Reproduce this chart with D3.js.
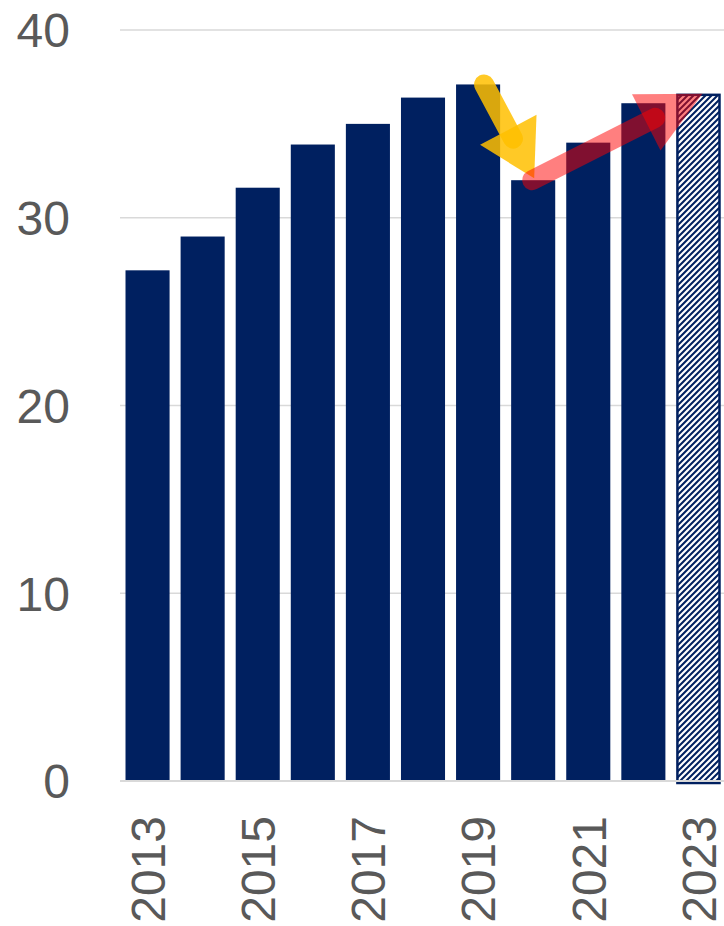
<!DOCTYPE html>
<html>
<head>
<meta charset="utf-8">
<script src="https://cdn.jsdelivr.net/npm/d3@7"></script>
<style>
  html, body { margin: 0; padding: 0; background: #ffffff; }
  svg { display: block; }
  text { font-family: "Liberation Sans", "Open Sans", sans-serif; fill: #595959; }
</style>
</head>
<body>
<svg id="chart" width="724" height="926"></svg>
<script>
// ---- data ----
const years = ["2013","2014","2015","2016","2017","2018","2019","2020","2021","2022","2023"];
const values = [27.2, 29.0, 31.6, 33.9, 35.0, 36.4, 37.1, 32.0, 34.0, 36.1, 36.6];
const estimatedYears = ["2023"];
const yTicks = [0, 10, 20, 30, 40];
const xTickLabels = ["2013","2015","2017","2019","2021","2023"];
// annotation arrows (data space)
const arrowFromYear = ["2019", "2020"];
const arrowFromValue = [37.1, 32.0];
const arrowToYear = ["2020", "2023"];
const arrowToValue = [32.1, 36.6];

// ---- layout ----
const W = 724, H = 926;
const mLeft = 120, mRight = 726, mTop = 30, mBottom = 781;
const navy = "#002060";
const arrowStyles = [
  { color: "#FFC000", opacity: 0.85, width: 20, headLen: 55, headWidth: 64, dx0: 6, dx1: 1 },
  { color: "#FF0000", opacity: 0.5, width: 20, headLen: 63, headWidth: 63, dx0: -1, dx1: 4 }
];

const svg = d3.select("#chart");

const x = d3.scaleBand().domain(years).range([mLeft, mRight]).paddingInner(0.2).paddingOuter(0.1);
const y = d3.scaleLinear().domain([0, 40]).range([mBottom, mTop]);

// pattern for estimated bar
const defs = svg.append("defs");
const pat = defs.append("pattern")
  .attr("id", "hatch").attr("patternUnits", "userSpaceOnUse")
  .attr("width", 6).attr("height", 6);
pat.append("rect").attr("width", 6).attr("height", 6).attr("fill", navy);
pat.append("path")
  .attr("d", "M-1,7 L7,-1 M-2,2 L2,-2 M4,8 L8,4")
  .attr("stroke", "#ffffff").attr("stroke-width", 2.2);

// gridlines
const grid = svg.append("g");
grid.selectAll("line").data(yTicks.filter(d => d > 0)).join("line")
  .attr("x1", mLeft).attr("x2", W)
  .attr("y1", d => y(d)).attr("y2", d => y(d))
  .attr("stroke", "#d9d9d9").attr("stroke-width", 1.5);

// y tick labels
svg.append("g").selectAll("text").data(yTicks).join("text")
  .attr("x", 70).attr("y", d => y(d)).attr("dy", "0.36em")
  .attr("text-anchor", "end").attr("font-size", 48)
  .text(d => d);

// bars
const data = years.map((yr, i) => ({ year: yr, value: values[i], est: estimatedYears.includes(yr) }));
svg.append("g").selectAll("rect").data(data.filter(d => !d.est)).join("rect")
  .attr("x", d => x(d.year)).attr("width", x.bandwidth())
  .attr("y", d => y(d.value)).attr("height", d => y(0) - y(d.value))
  .attr("fill", navy);
svg.append("g").selectAll("rect").data(data.filter(d => d.est)).join("rect")
  .attr("x", d => x(d.year) + 1).attr("width", x.bandwidth() - 2)
  .attr("y", d => y(d.value) + 1).attr("height", d => y(0) - y(d.value) + 1)
  .attr("fill", "url(#hatch)").attr("stroke", navy).attr("stroke-width", 2.5);

// baseline
svg.append("line").attr("x1", mLeft).attr("x2", W)
  .attr("y1", y(0)).attr("y2", y(0))
  .attr("stroke", "#d9d9d9").attr("stroke-width", 2);

// x labels
svg.append("g").selectAll("text").data(xTickLabels).join("text")
  .attr("transform", d => `translate(${x(d) + x.bandwidth() / 2},816) rotate(-90)`)
  .attr("text-anchor", "end").attr("dy", "0.36em").attr("font-size", 48)
  .text(d => d);

// arrows
const ag = svg.append("g");
arrowFromYear.forEach((fy, i) => {
  const s = arrowStyles[i];
  const ax = x(fy) + x.bandwidth() / 2 + s.dx0, ay = y(arrowFromValue[i]);
  const bx = x(arrowToYear[i]) + x.bandwidth() / 2 + s.dx1, by = y(arrowToValue[i]);
  const L = Math.hypot(bx - ax, by - ay);
  const ux = (bx - ax) / L, uy = (by - ay) / L;
  const nx = -uy, ny = ux;
  const px = bx - ux * s.headLen, py = by - uy * s.headLen;
  ag.append("line")
    .attr("x1", ax).attr("y1", ay)
    .attr("x2", px + ux * 10).attr("y2", py + uy * 10)
    .attr("stroke", s.color).attr("stroke-opacity", s.opacity)
    .attr("stroke-width", s.width).attr("stroke-linecap", "round");
  ag.append("path")
    .attr("d", `M${bx},${by} L${px + nx * s.headWidth / 2},${py + ny * s.headWidth / 2} L${px - nx * s.headWidth / 2},${py - ny * s.headWidth / 2} Z`)
    .attr("fill", s.color).attr("fill-opacity", s.opacity);
});
</script>
</body>
</html>
